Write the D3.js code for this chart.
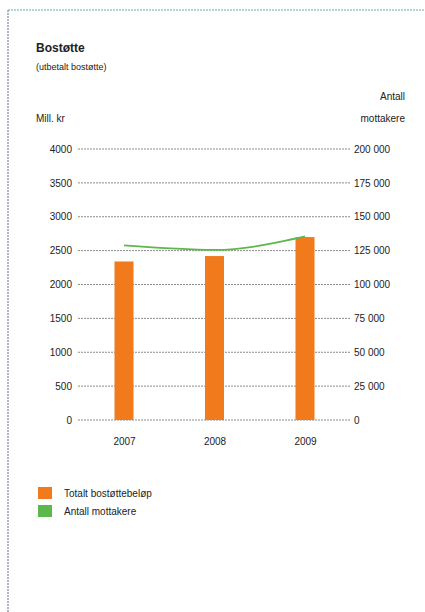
<!DOCTYPE html>
<html>
<head>
<meta charset="utf-8">
<script src="https://cdn.jsdelivr.net/npm/d3@7"></script>
<style>
  body { margin: 0; background: #fff; }
  svg text { font-family: "Liberation Sans", Arial, sans-serif; fill: #222; }
</style>
</head>
<body>
<div id="chart"></div>
<script>
// data
let years = ["2007", "2008", "2009"];
let belop = [2340, 2420, 2700];          // Mill. kr
let mottakere = [128800, 125500, 135500]; // antall
let leftTicks = [0, 500, 1000, 1500, 2000, 2500, 3000, 3500, 4000];
let rightTicks = [0, 25000, 50000, 75000, 100000, 125000, 150000, 175000, 200000];
let legendNames = ["Totalt bostøttebeløp", "Antall mottakere"];

let w = 425, h = 612;
let orange = "#f07a1c", green = "#5cb84a";

let svg = d3.select("#chart").append("svg")
  .attr("width", w).attr("height", h);

// dotted frame (top and left)
svg.append("line").attr("x1", 8).attr("x2", w).attr("y1", 10).attr("y2", 10)
  .attr("stroke", "#9cc7c9").attr("stroke-width", 1.5).attr("stroke-dasharray", "2,1");
svg.append("line").attr("x1", 8).attr("x2", 8).attr("y1", 10).attr("y2", h)
  .attr("stroke", "#9a9ab8").attr("stroke-width", 1.5).attr("stroke-dasharray", "2,1");

// titles
svg.append("text").attr("x", 36).attr("y", 52).text("Bostøtte")
  .style("font-size", "12px").style("font-weight", "bold");
svg.append("text").attr("x", 36).attr("y", 70).text("(utbetalt bostøtte)")
  .style("font-size", "9px");
svg.append("text").attr("x", 36).attr("y", 122).text("Mill. kr")
  .style("font-size", "10px");
svg.append("text").attr("x", 405).attr("y", 100).attr("text-anchor", "end").text("Antall")
  .style("font-size", "10px");
svg.append("text").attr("x", 405).attr("y", 122).attr("text-anchor", "end").text("mottakere")
  .style("font-size", "10px");

let x0 = 78, x1 = 350;
let y = d3.scaleLinear().domain([0, 4000]).range([420, 149]);
let y2 = d3.scaleLinear().domain([0, 200000]).range([420, 149]);
let x = d3.scalePoint().domain(years).range([124, 305]);

let fmt = d => d3.format(",")(d).replace(/,/g, " ");

// gridlines
svg.append("g").selectAll("line").data(leftTicks).enter().append("line")
  .attr("x1", x0).attr("x2", x1)
  .attr("y1", d => y(d)).attr("y2", d => y(d))
  .attr("stroke", "#8a8a8a").attr("stroke-width", 1)
  .attr("stroke-dasharray", "2,1");

// left axis labels
let left = d3.axisLeft(y).tickValues(leftTicks).tickSize(0).tickPadding(0).tickFormat(d3.format("d"));
svg.append("g").attr("transform", "translate(72,0)").call(left)
  .call(g => g.select(".domain").remove())
  .selectAll("text").style("font-size", "10px").attr("fill", "#222");

// right axis labels
let right = d3.axisRight(y2).tickValues(rightTicks).tickSize(0).tickPadding(0).tickFormat(fmt);
svg.append("g").attr("transform", "translate(354,0)").call(right)
  .call(g => g.select(".domain").remove())
  .selectAll("text").style("font-size", "10px").attr("fill", "#222");

// bars
let bw = 19;
svg.append("g").selectAll("rect").data(belop).enter().append("rect")
  .attr("x", (d, i) => x(years[i]) - bw / 2)
  .attr("y", d => y(d))
  .attr("width", bw)
  .attr("height", d => y(0) - y(d))
  .attr("fill", orange);

// line
let line = d3.line()
  .x((d, i) => x(years[i]))
  .y(d => y2(d))
  .curve(d3.curveMonotoneX);
svg.append("path").datum(mottakere)
  .attr("d", line).attr("fill", "none")
  .attr("stroke", green).attr("stroke-width", 1.8);

// year labels
let bottom = d3.axisBottom(x).tickSize(0).tickPadding(0);
svg.append("g").attr("transform", "translate(0,438)").call(bottom)
  .call(g => g.select(".domain").remove())
  .selectAll("text").style("font-size", "10px").attr("fill", "#222");

// legend
let lg = svg.append("g").selectAll("g").data(legendNames).enter().append("g")
  .attr("transform", (d, i) => "translate(38," + (487 + i * 18) + ")");
lg.append("rect").attr("width", 14).attr("height", 12)
  .attr("fill", (d, i) => i == 0 ? orange : green);
lg.append("text").attr("x", 26).attr("y", 10).text(d => d)
  .style("font-size", "10px");
</script>
</body>
</html>
